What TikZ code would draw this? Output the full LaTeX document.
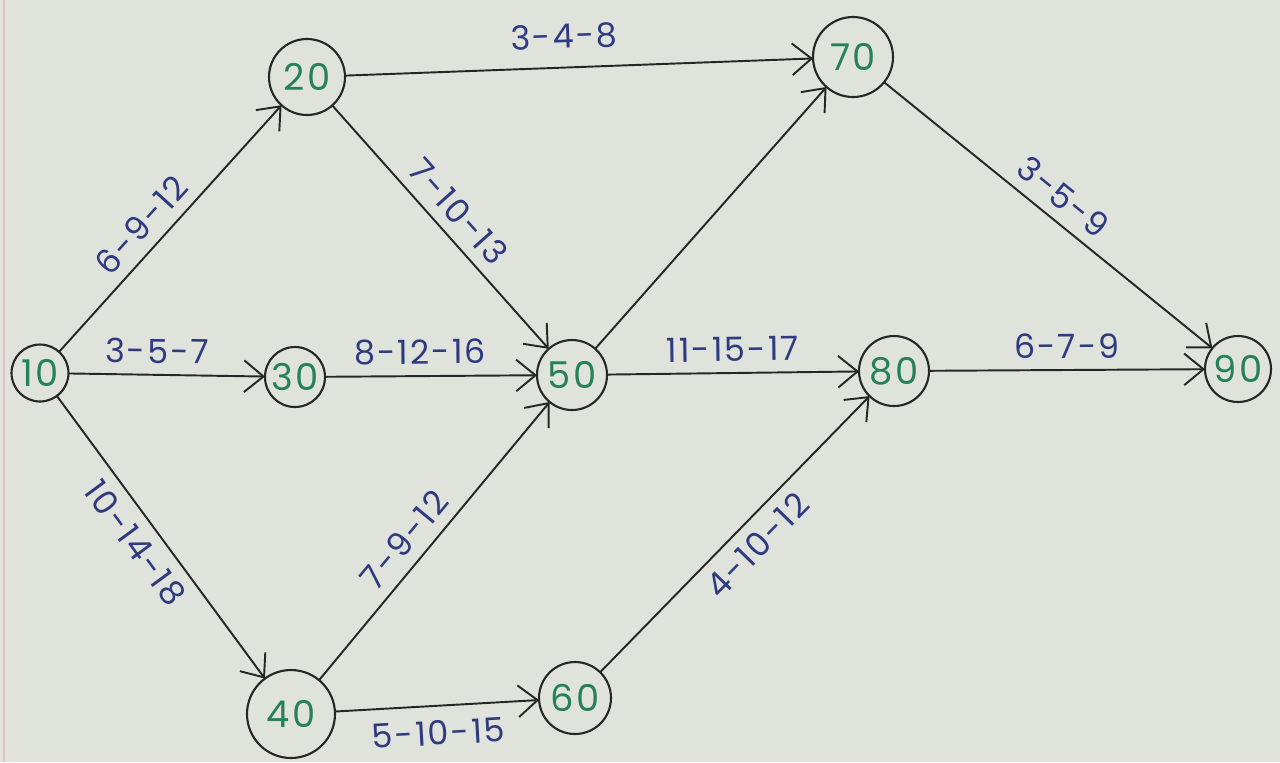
\documentclass[tikz,border=0pt]{standalone}
\usepackage{fontspec}
\setmainfont{Poppins}[LetterSpace=6]
\usetikzlibrary{arrows.meta}
\definecolor{paper}{RGB}{224,227,219}
\definecolor{ink}{RGB}{38,38,38}
\definecolor{lab}{RGB}{48,58,128}
\definecolor{grn}{RGB}{38,128,88}
\definecolor{margin}{RGB}{225,190,200}
\begin{document}
\begin{tikzpicture}[x=0.02cm,y=-0.02cm,
  ev/.style={circle,draw=ink,line width=1.2pt,inner sep=0pt,outer sep=0pt,
    text=grn,font=\fontsize{21}{23}\selectfont},
  act/.style={draw=ink,line width=1.1pt,-{Straight Barb[length=11pt,width=18pt,line width=1.1pt]}},
  lbl/.style={text=lab,font=\fontsize{19}{21}\selectfont,sloped,inner sep=6pt}]
\fill[paper] (0,0) rectangle (1280,762);
\useasboundingbox (0,0) rectangle (1280,762);
\draw[margin,line width=1pt] (4,0) -- (4,762);
\node[ev,minimum size=1.14cm] (n10) at (40,373) {10};
\node[ev,minimum size=1.52cm] (n20) at (307,77) {20};
\node[ev,minimum size=1.2cm]  (n30) at (295,377) {30};
\node[ev,minimum size=1.76cm] (n40) at (291,714) {40};
\node[ev,minimum size=1.4cm]  (n50) at (572,375) {50};
\node[ev,minimum size=1.44cm] (n60) at (575,698) {60};
\node[ev,minimum size=1.6cm]  (n70) at (853,57) {70};
\node[ev,minimum size=1.4cm]  (n80) at (894,371) {80};
\node[ev,minimum size=1.32cm] (n90) at (1238,369) {90};
\draw[act] (n10) -- node[lbl,above,pos=0.45] {6-9-12} (n20);
\draw[act] (n20) -- node[lbl,above,pos=0.47,yshift=4pt] {3-4-8} (n70);
\draw[act] (n20) -- node[lbl,above,pos=0.5] {7-10-13} (n50);
\draw[act] (n10) -- node[lbl,above,pos=0.45] {3-5-7} (n30);
\draw[act] (n30) -- node[lbl,above,pos=0.45] {8-12-16} (n50);
\draw[act] (n10) -- node[lbl,below,pos=0.47] {10-14-18} (n40);
\draw[act] (n40) -- node[lbl,above,pos=0.45] {7-9-12} (n50);
\draw[act] (n40) -- node[lbl,below,pos=0.5,yshift=-2pt] {5-10-15} (n60);
\draw[act] (n60) -- node[lbl,below,pos=0.52] {4-10-12} (n80);
\draw[act] (n50) -- (n70);
\draw[act] (n50) -- node[lbl,above,pos=0.5] {11-15-17} (n80);
\draw[act] (n70) -- node[lbl,above,pos=0.5] {3-5-9} (n90);
\draw[act] (n80) -- node[lbl,above,pos=0.5] {6-7-9} (n90);
\end{tikzpicture}
\end{document}
